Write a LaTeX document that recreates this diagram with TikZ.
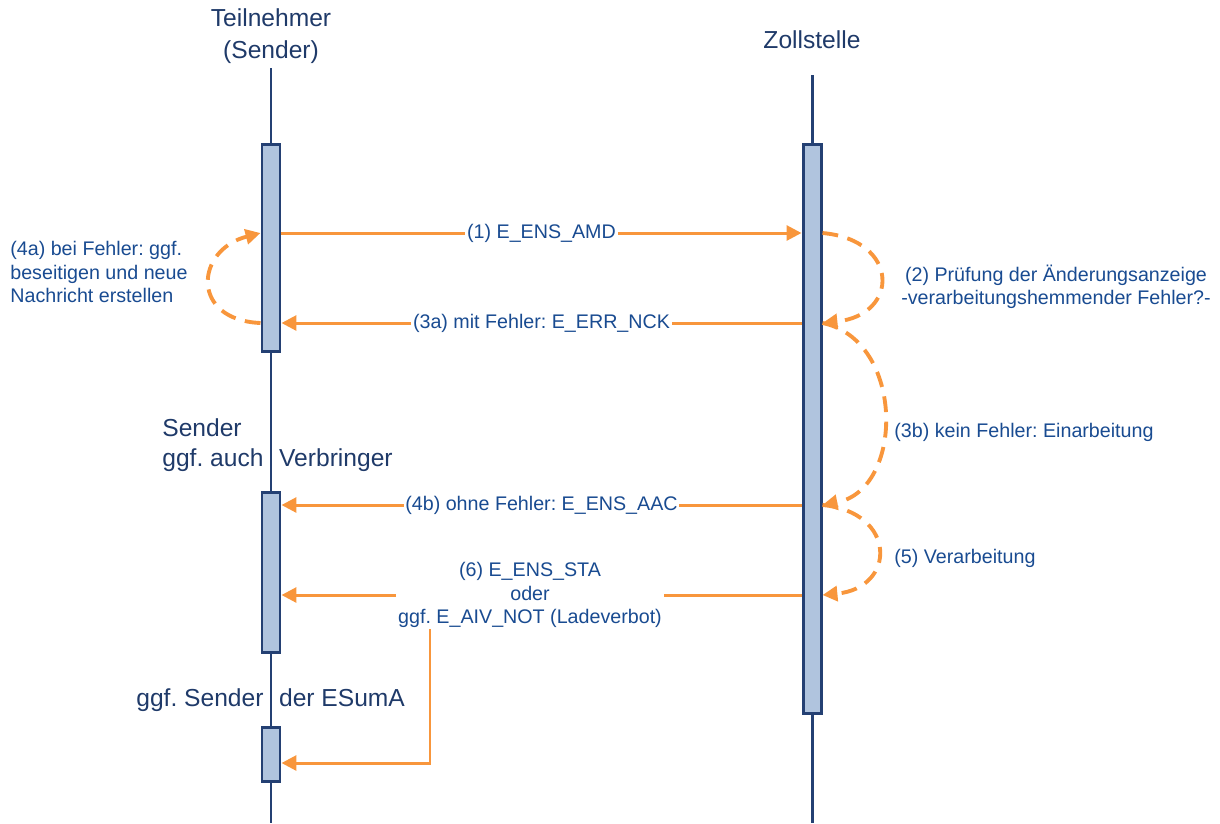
\documentclass[tikz,border=0pt]{standalone}
\usepackage{fontspec}
\setmainfont{Liberation Sans}
\usetikzlibrary{arrows.meta}
\frenchspacing

\definecolor{lineblue}{RGB}{36,64,115}
\definecolor{headblue}{RGB}{31,58,105}
\definecolor{textblue}{RGB}{25,75,145}
\definecolor{boxfill}{RGB}{176,196,222}
\definecolor{msgorange}{RGB}{248,150,60}

\begin{document}
\begin{tikzpicture}[
    x=0.02cm, y=-0.02cm,
    head/.style={font=\fontsize{14}{18}\selectfont, text=headblue, align=center},
    note/.style={font=\fontsize{11.2}{13.2}\selectfont, text=textblue, inner sep=0pt},
    lifeline/.style={draw=lineblue, line width=1.7pt},
    active/.style={draw=lineblue, line width=1.7pt, fill=boxfill, minimum width=0.36cm, inner sep=0pt},
    msg/.style={draw=msgorange, line width=1.7pt, -{Triangle[length=8.5pt, width=8.5pt]}},
    selfmsg/.style={msg, line width=2.2pt, dash pattern=on 9pt off 5.5pt},
    lbl/.style={note, fill=white, inner xsep=1pt, inner ysep=1pt, align=center}
]
    \useasboundingbox (0,0) rectangle (1220,823);

    % Teilnehmer und Lifelines
    \node[head] (sender) at (271,36) {Teilnehmer\\(Sender)};
    \node[head] (zoll) at (812,40) {Zollstelle};
    \coordinate (sender_top) at (271,68);
    \coordinate (sender_end) at (271,823);
    \coordinate (zoll_top) at (812,75);
    \coordinate (zoll_end) at (812,823);

    \draw[lifeline] (sender_top) -- (sender_end);
    \draw[lifeline] (zoll_top) -- (zoll_end);

    % Rollen
    \node[head, anchor=west, align=left, inner sep=0pt, font=\fontsize{14}{17}\selectfont] (role2) at (162,445) {Sender\\ggf. auch\hspace{5pt} Verbringer};
    \node[head, anchor=west, inner sep=0pt] (role3) at (136,700) {ggf. Sender\hspace{5pt} der ESumA};

    % Aktivierungen
    \node[active, minimum height=4.15cm] (send_act1) at (271,248) {};
    \node[active, minimum height=3.21cm] (send_act2) at (271,572.5) {};
    \node[active, minimum height=1.09cm] (send_act3) at (271,754.5) {};
    \node[active, minimum height=11.39cm] (zoll_act) at (812,429) {};

    % Nachrichten
    \coordinate (m1) at (0,233);
    \coordinate (m3a) at (0,323);
    \coordinate (m4b) at (0,505);
    \coordinate (m6) at (0,595);
    \coordinate (m6b) at (0,763);
    \coordinate (c6) at (430,0);

    \draw[msg] (send_act1.east |- m1) -- node[lbl] {(1) E\_ENS\_AMD} (zoll_act.west |- m1);
    \draw[msg] (zoll_act.west |- m3a) -- node[lbl] {(3a) mit Fehler: E\_ERR\_NCK} (send_act1.east |- m3a);
    \draw[msg] (zoll_act.west |- m4b) -- node[lbl] {(4b) ohne Fehler: E\_ENS\_AAC} (send_act2.east |- m4b);

    \node[lbl] (lbl6) at (530,595) {(6) E\_ENS\_STA\\oder\\ggf. E\_AIV\_NOT (Ladeverbot)};
    \draw[msg, -] (zoll_act.west |- m6) -- (lbl6.east |- m6);
    \draw[msg] (lbl6.west |- m6) -- (send_act2.east |- m6);
    \draw[msg] (lbl6.south -| c6) |- (send_act3.east |- m6b);

    % Interne Schritte
    \draw[selfmsg] (send_act1.west |- m3a) .. controls (190,320) and (195,250) .. (send_act1.west |- m1);
    \draw[selfmsg] (zoll_act.east |- m1) .. controls (900,240) and (900,315) .. (zoll_act.east |- m3a);
    \draw[selfmsg] (zoll_act.east |- m3a) .. controls (905,340) and (905,490) .. (zoll_act.east |- m4b);
    \draw[selfmsg] (zoll_act.east |- m4b) .. controls (897,512) and (897,588) .. (zoll_act.east |- m6);

    \node[note, anchor=west, align=left] (note4a) at (10,272) {(4a) bei Fehler: ggf.\\beseitigen und neue\\Nachricht erstellen};
    \node[note, align=center] (note2) at (1056,287) {(2) Prüfung der Änderungsanzeige\\-verarbeitungshemmender Fehler?-};
    \node[note, anchor=west] (note3b) at (894,432) {(3b) kein Fehler: Einarbeitung};
    \node[note, anchor=west] (note5) at (894,558) {(5) Verarbeitung};

\end{tikzpicture}
\end{document}
